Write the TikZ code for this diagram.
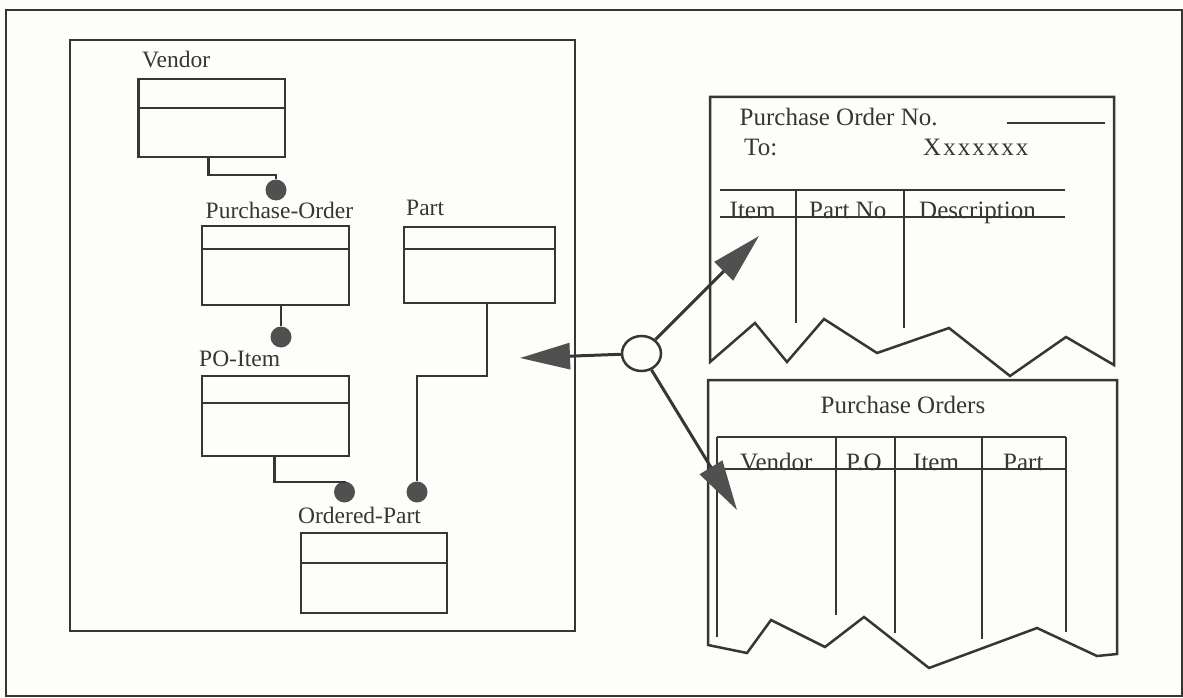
\documentclass[tikz,border=0pt]{standalone}
\usepackage{fontspec}
\setmainfont{Liberation Serif}
\usetikzlibrary{arrows.meta,shapes.geometric}
\definecolor{ink}{HTML}{363636}
\definecolor{paper}{HTML}{FDFDFA}
\definecolor{dotgray}{HTML}{505050}
\begin{document}
\begin{tikzpicture}[x=1pt,y=-1pt,
  ln/.style={draw=ink,line width=2.5pt},
  entity/.style={ln, rectangle, inner sep=0pt},
  lbl/.style={anchor=base west, inner sep=0pt, text=ink, font=\fontsize{23.5}{28}\selectfont},
  flbl/.style={anchor=base west, inner sep=0pt, text=ink, font=\fontsize{25}{29}\selectfont},
  dot/.style={circle, fill=dotgray, inner sep=0pt, minimum size=21pt},
  link/.style={draw=ink, line width=2.5pt},
  flow/.style={draw=ink, line width=3pt, -{Triangle[length=50pt,width=26pt,color=dotgray]}},
]
\useasboundingbox (0,0) rectangle (1183,698);
\fill[paper] (0,0) rectangle (1183,698);
% outer frame and inner model frame
\draw[ln] (6,10) rectangle (1182,696);
\draw[ln, line width=2.8pt] (70,40) rectangle (575,631);

% entities
\node[entity, minimum width=146.5pt, minimum height=78pt] (vendor) at (211.75,118) {};
\draw[ln] (vendor.west |- 0,108) -- (vendor.east |- 0,108);
\node[lbl] (vendorL) at (142,68) {Vendor};

\node[entity, minimum width=147pt, minimum height=79pt] (po) at (275.5,265.5) {};
\draw[ln] (po.west |- 0,249) -- (po.east |- 0,249);
\node[lbl] (poL) at (205.5,218) {Purchase-Order};

\node[entity, minimum width=151pt, minimum height=76pt] (part) at (479.5,265) {};
\draw[ln] (part.west |- 0,249) -- (part.east |- 0,249);
\node[lbl] (partL) at (406,215) {Part};

\node[entity, minimum width=147pt, minimum height=80pt] (poitem) at (275.5,416) {};
\draw[ln] (poitem.west |- 0,403) -- (poitem.east |- 0,403);
\node[lbl] (poitemL) at (199,366) {PO-Item};

\node[entity, minimum width=146pt, minimum height=80pt] (opart) at (374,573) {};
\draw[ln] (opart.west |- 0,563) -- (opart.east |- 0,563);
\node[lbl] (opartL) at (298,523) {Ordered-Part};

% relationship dots
\node[dot] (d1) at (276,190) {};
\node[dot] (d2) at (281,337) {};
\node[dot] (d3) at (344.5,492) {};
\node[dot] (d4) at (417,492) {};

% relationship lines
\draw[link] (vendor.south -| 208.6,0) |- (276,175) -- (d1);
\draw[link] (po.south -| d2) -- (d2);
\draw[link] (poitem.south -| 274.4,0) |- (344.5,482) -- (d3);
\draw[link] (part.south -| 487,0) |- (417,376) -- (d4);

% form 1: purchase order document
\draw[ln] (710,97) -- (1114,97) -- (1114,365) -- (1066,337) -- (1010,376) -- (949,328)
  -- (877,353) -- (824,319) -- (787,362) -- (755,323) -- (710,362) -- cycle;
\node[flbl] (pono) at (739.5,125) {Purchase Order No.};
\draw[ln] (1007,123) -- (1105,123);
\node[flbl] (to) at (744,156) {To:};
\node[flbl] (xx) at (923,156) {\addfontfeature{LetterSpace=8}Xxxxxxx};
\draw[ln] (720,190) -- (1065,190);
\draw[ln] (720,217) -- (1065,217);
\draw[ln] (796,190) -- (796,323);
\draw[ln] (904,190) -- (904,328);
\node[flbl] (h1) at (729.5,218) {Item};
\node[flbl] (h2) at (809,218) {Part No};
\node[flbl] (h3) at (919,218) {Description};

% form 2: purchase orders list
\draw[ln] (708,380) -- (1117,380) -- (1117,654) -- (1097,656) -- (1037,628) -- (929,668)
  -- (864,617) -- (825,647) -- (771,620) -- (747,653) -- (708,645) -- cycle;
\node[flbl, anchor=base] (pos) at (903,413) {Purchase Orders};
\draw[ln] (717,437) -- (1066,437);
\draw[ln] (717,469) -- (1066,469);
\draw[ln] (717,437) -- (717,637);
\draw[ln] (836,437) -- (836,615);
\draw[ln] (895,437) -- (895,633);
\draw[ln] (982,437) -- (982,639);
\draw[ln] (1066,437) -- (1066,632);
\node[flbl] (c1) at (740,470) {Vendor};
\node[flbl] (c2) at (846,470) {P.O};
\node[flbl] (c3) at (913,470) {Item};
\node[flbl] (c4) at (1003,470) {Part};

% view hub and arrows
\node[ellipse, draw=ink, line width=2.5pt, minimum width=39pt, minimum height=35pt, inner sep=0pt, fill=paper] (hub) at (641.5,353.5) {};
\coordinate (t1) at (759,236);
\coordinate (t2) at (520,358);
\coordinate (t3) at (737,510);
\draw[flow] (hub) -- (t1);
\draw[flow] (hub) -- (t2);
\draw[flow] (hub) -- (t3);
\end{tikzpicture}
\end{document}
